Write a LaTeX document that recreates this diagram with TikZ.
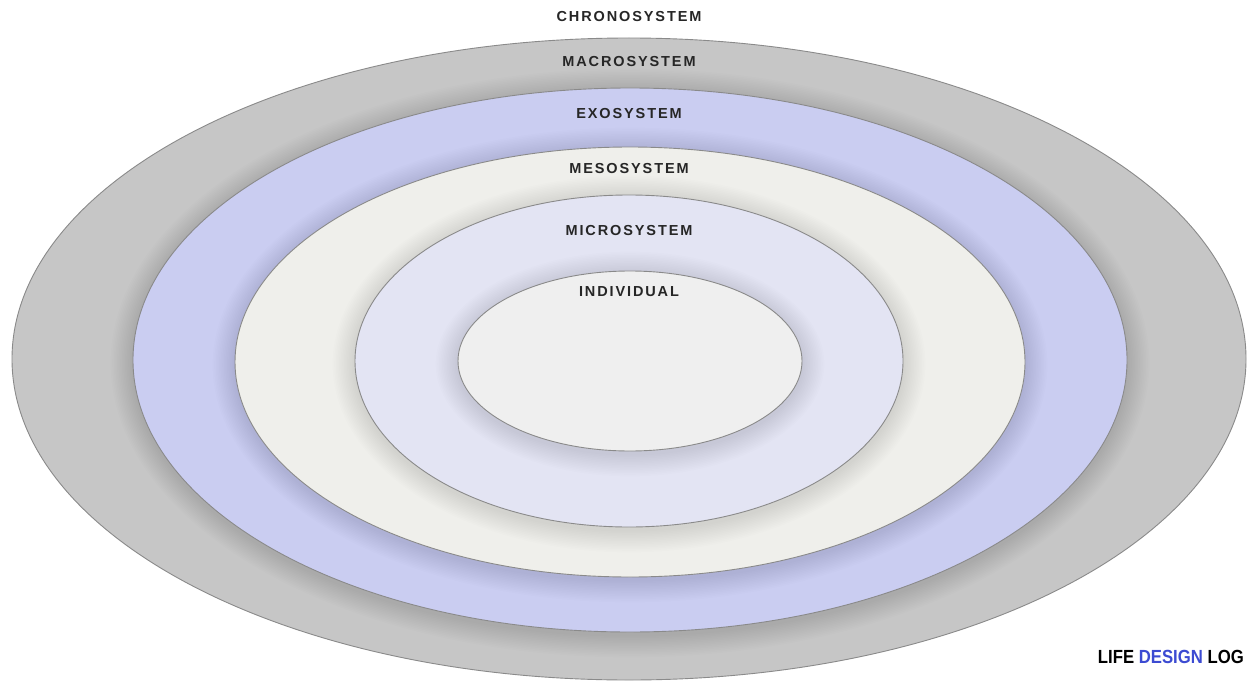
\documentclass[tikz,border=0pt]{standalone}
\usepackage{fontspec}
\setmainfont{Liberation Sans}
\newfontfamily\labelfont[LetterSpace=13]{Liberation Sans}
\begin{document}
\begin{tikzpicture}[x=1pt,y=-1pt]
  \definecolor{macrofill}{HTML}{C6C6C6}
  \definecolor{exofill}{HTML}{CACDF1}
  \definecolor{mesofill}{HTML}{EFEFEB}
  \definecolor{microfill}{HTML}{E3E4F3}
  \definecolor{indivfill}{HTML}{EFEFEF}
  \definecolor{rimline}{HTML}{8A8A8A}
  \definecolor{logoblue}{HTML}{3C4BD2}
  \tikzset{
    rim/.style={draw=rimline, line width=0.9pt},
    syslabel/.style={font=\labelfont\bfseries\fontsize{14.5}{16}\selectfont, text=black!85, inner sep=0pt},
  }
  % soft shadow cast by an ellipse: centre x, centre y, x radius, y radius
  \def\softshadow#1#2#3#4{%
    \foreach \k in {1,...,14}{%
      \fill[black, opacity=0.009] (#1,#2+3) ellipse ({#3+\k*1.6} and {#4+\k*1.6});
    }%
  }
  \useasboundingbox (0,0) rectangle (1260,682);
  \fill[white] (0,0) rectangle (1260,682);

  % macrosystem
  \fill[macrofill, rim] (629,359) ellipse (617 and 321);
  % exosystem
  \softshadow{630}{360}{497}{272}
  \fill[exofill, rim] (630,360) ellipse (497 and 272);
  % mesosystem
  \softshadow{630}{362}{395}{215}
  \fill[mesofill, rim] (630,362) ellipse (395 and 215);
  % microsystem
  \softshadow{629}{361}{274}{166}
  \fill[microfill, rim] (629,361) ellipse (274 and 166);
  % individual
  \softshadow{630}{361}{172}{90}
  \fill[indivfill, rim] (630,361) ellipse (172 and 90);

  % layer names
  \node[syslabel] (chrono) at (629,17)  {CHRONOSYSTEM};
  \node[syslabel] (macro)  at (629,62)  {MACROSYSTEM};
  \node[syslabel] (exo)    at (629,114) {EXOSYSTEM};
  \node[syslabel] (meso)   at (629,169) {MESOSYSTEM};
  \node[syslabel] (micro)  at (629,231) {MICROSYSTEM};
  \node[syslabel] (indiv)  at (629,292) {INDIVIDUAL};

  % logo
  \node[inner sep=0pt, anchor=east, font=\bfseries\fontsize{19}{21}\selectfont, xscale=0.88] (logo) at (1244,657)
    {LIFE \textcolor{logoblue}{DESIGN} LOG};
\end{tikzpicture}
\end{document}
